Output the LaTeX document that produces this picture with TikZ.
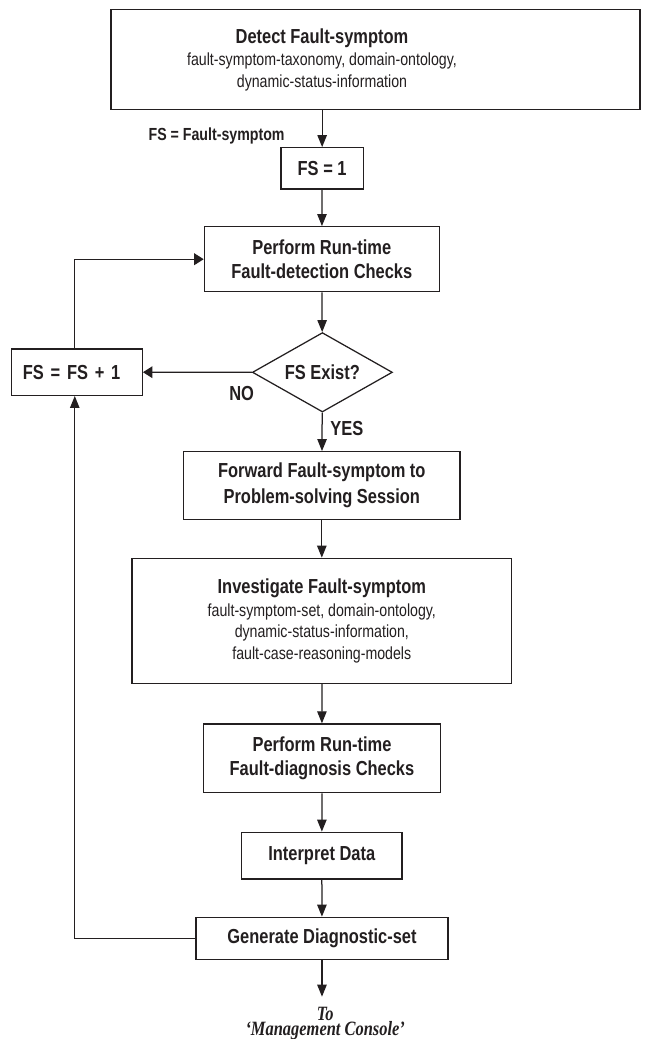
\documentclass[tikz,border=0pt]{standalone}
\usepackage{fontspec}
% the figure uses narrow lettering throughout
\setmainfont{Liberation Sans}[FakeStretch=0.81]
\newfontfamily\serifnote{Liberation Serif}[FakeStretch=0.81]
\usetikzlibrary{arrows.meta,shapes.geometric}
\definecolor{ink}{HTML}{231F20}

\tikzset{
  flowbox/.style={draw=ink, line width=1.25bp, inner sep=0pt, align=center, text=ink,
    font=\bfseries\fontsize{20.3bp}{24bp}\selectfont},
  frame/.style={draw=ink, line width=1.25bp, inner sep=0pt},
  infotext/.style={text=ink, inner sep=0pt, align=center,
    font=\fontsize{17.5bp}{21.6bp}\selectfont},
  decision/.style={flowbox, diamond, aspect=1.76},
  flowlabel/.style={text=ink, inner sep=0pt, font=\bfseries\fontsize{20.3bp}{24bp}\selectfont},
  notelabel/.style={text=ink, inner sep=0pt, font=\bfseries\fontsize{17.5bp}{21bp}\selectfont},
  endlabel/.style={text=ink, inner sep=0pt, align=center,
    font=\serifnote\bfseries\itshape\fontsize{20.3bp}{13.6bp}\selectfont},
  varrow/.style={draw=ink, line width=1.25bp, -{Triangle[length=12bp,width=9.4bp]}},
  harrow/.style={draw=ink, line width=1.25bp, -{Triangle[length=9.5bp,width=11.7bp]}}
}

\begin{document}
\begin{tikzpicture}[x=0.81bp, y=-1bp]
  \clip (0,0) rectangle (796.3,1039);
  \fill[white] (0,0) rectangle (796.3,1039);

  % first step: framed block with its text set apart from the frame centre
  \node[frame, minimum width=529bp, minimum height=100bp] (detect) at (463.6,59.3) {};
  \node[infotext] (detecttext) at (397.5,60)
    {{\bfseries\fontsize{20.3bp}{21.6bp}\selectfont Detect Fault-symptom}\\[0.6bp]
     fault-symptom-taxonomy, domain-ontology,\\
     dynamic-status-information};
  \node[notelabel, anchor=base west] (fsnote) at (183.3,140.7) {FS = Fault-symptom};
  \node[flowbox, minimum width=82.4bp, minimum height=41.3bp] (fsone) at (397.7,168.4) {FS = 1};
  \node[flowbox, minimum width=235bp, minimum height=65bp] (detcheck) at (397.3,259.2)
    {Perform Run-time\\Fault-detection Checks};
  \node[decision, minimum width=140bp, minimum height=79.4bp] (exist) at (398,372.3) {FS Exist?};
  \node[flowbox, minimum height=46.3bp, text width=107.8bp, inner xsep=11.6bp, align=left]
    (inc) at (94.85,372.2) {FS = FS + 1};
  \node[flowlabel] (nolabel) at (298.4,393.3) {NO};
  \node[flowlabel] (yeslabel) at (428.2,428.3) {YES};
  \node[flowbox, minimum width=276.4bp, minimum height=67.6bp] (forward) at (397.3,485.5)
    {Forward Fault-symptom to\\[1.5bp]Problem-solving Session};
  \node[frame, minimum width=379.6bp, minimum height=125bp] (investigate) at (397.3,620.8) {};
  \node[infotext] (investigatetext) at (397.3,621)
    {{\bfseries\fontsize{20.3bp}{21.6bp}\selectfont Investigate Fault-symptom}\\[0.6bp]
     fault-symptom-set, domain-ontology,\\
     dynamic-status-information,\\
     fault-case-reasoning-models};
  \node[flowbox, minimum width=236.7bp, minimum height=68.7bp] (diagcheck) at (397.5,758.3)
    {Perform Run-time\\Fault-diagnosis Checks};
  \node[flowbox, minimum width=160.3bp, minimum height=46.7bp] (interpret) at (397.3,855.6)
    {Interpret Data};
  \node[flowbox, minimum width=252.2bp, minimum height=42bp] (generate) at (397.5,938.3)
    {Generate Diagnostic-set};
  \coordinate (out) at (397.5,996.7);
  \node[endlabel, anchor=north] (destination) at (401.5,1006.8) {To\\‘Management Console’};

  % x position of the return loop on the left
  \coordinate (loopx) at (92.3,0);

  % connectors
  \draw[varrow] (detect.south -| fsone.north) -- (fsone.north);
  \draw[varrow] (fsone) -- (detcheck);
  \draw[varrow] (detcheck) -- (exist);
  \draw[harrow] (exist.west) -- (inc.east);
  \draw[varrow] (exist) -- (forward);
  \draw[varrow] (forward) -- (investigate);
  \draw[varrow] (investigate) -- (diagcheck);
  \draw[varrow] (diagcheck) -- (interpret);
  \draw[varrow] (interpret) -- (generate);
  \draw[varrow] (generate) -- (out);
  \draw[harrow] (inc.north -| loopx) |- (detcheck.west);
  \draw[varrow] (generate.west) -| (inc.south -| loopx);
\end{tikzpicture}
\end{document}
